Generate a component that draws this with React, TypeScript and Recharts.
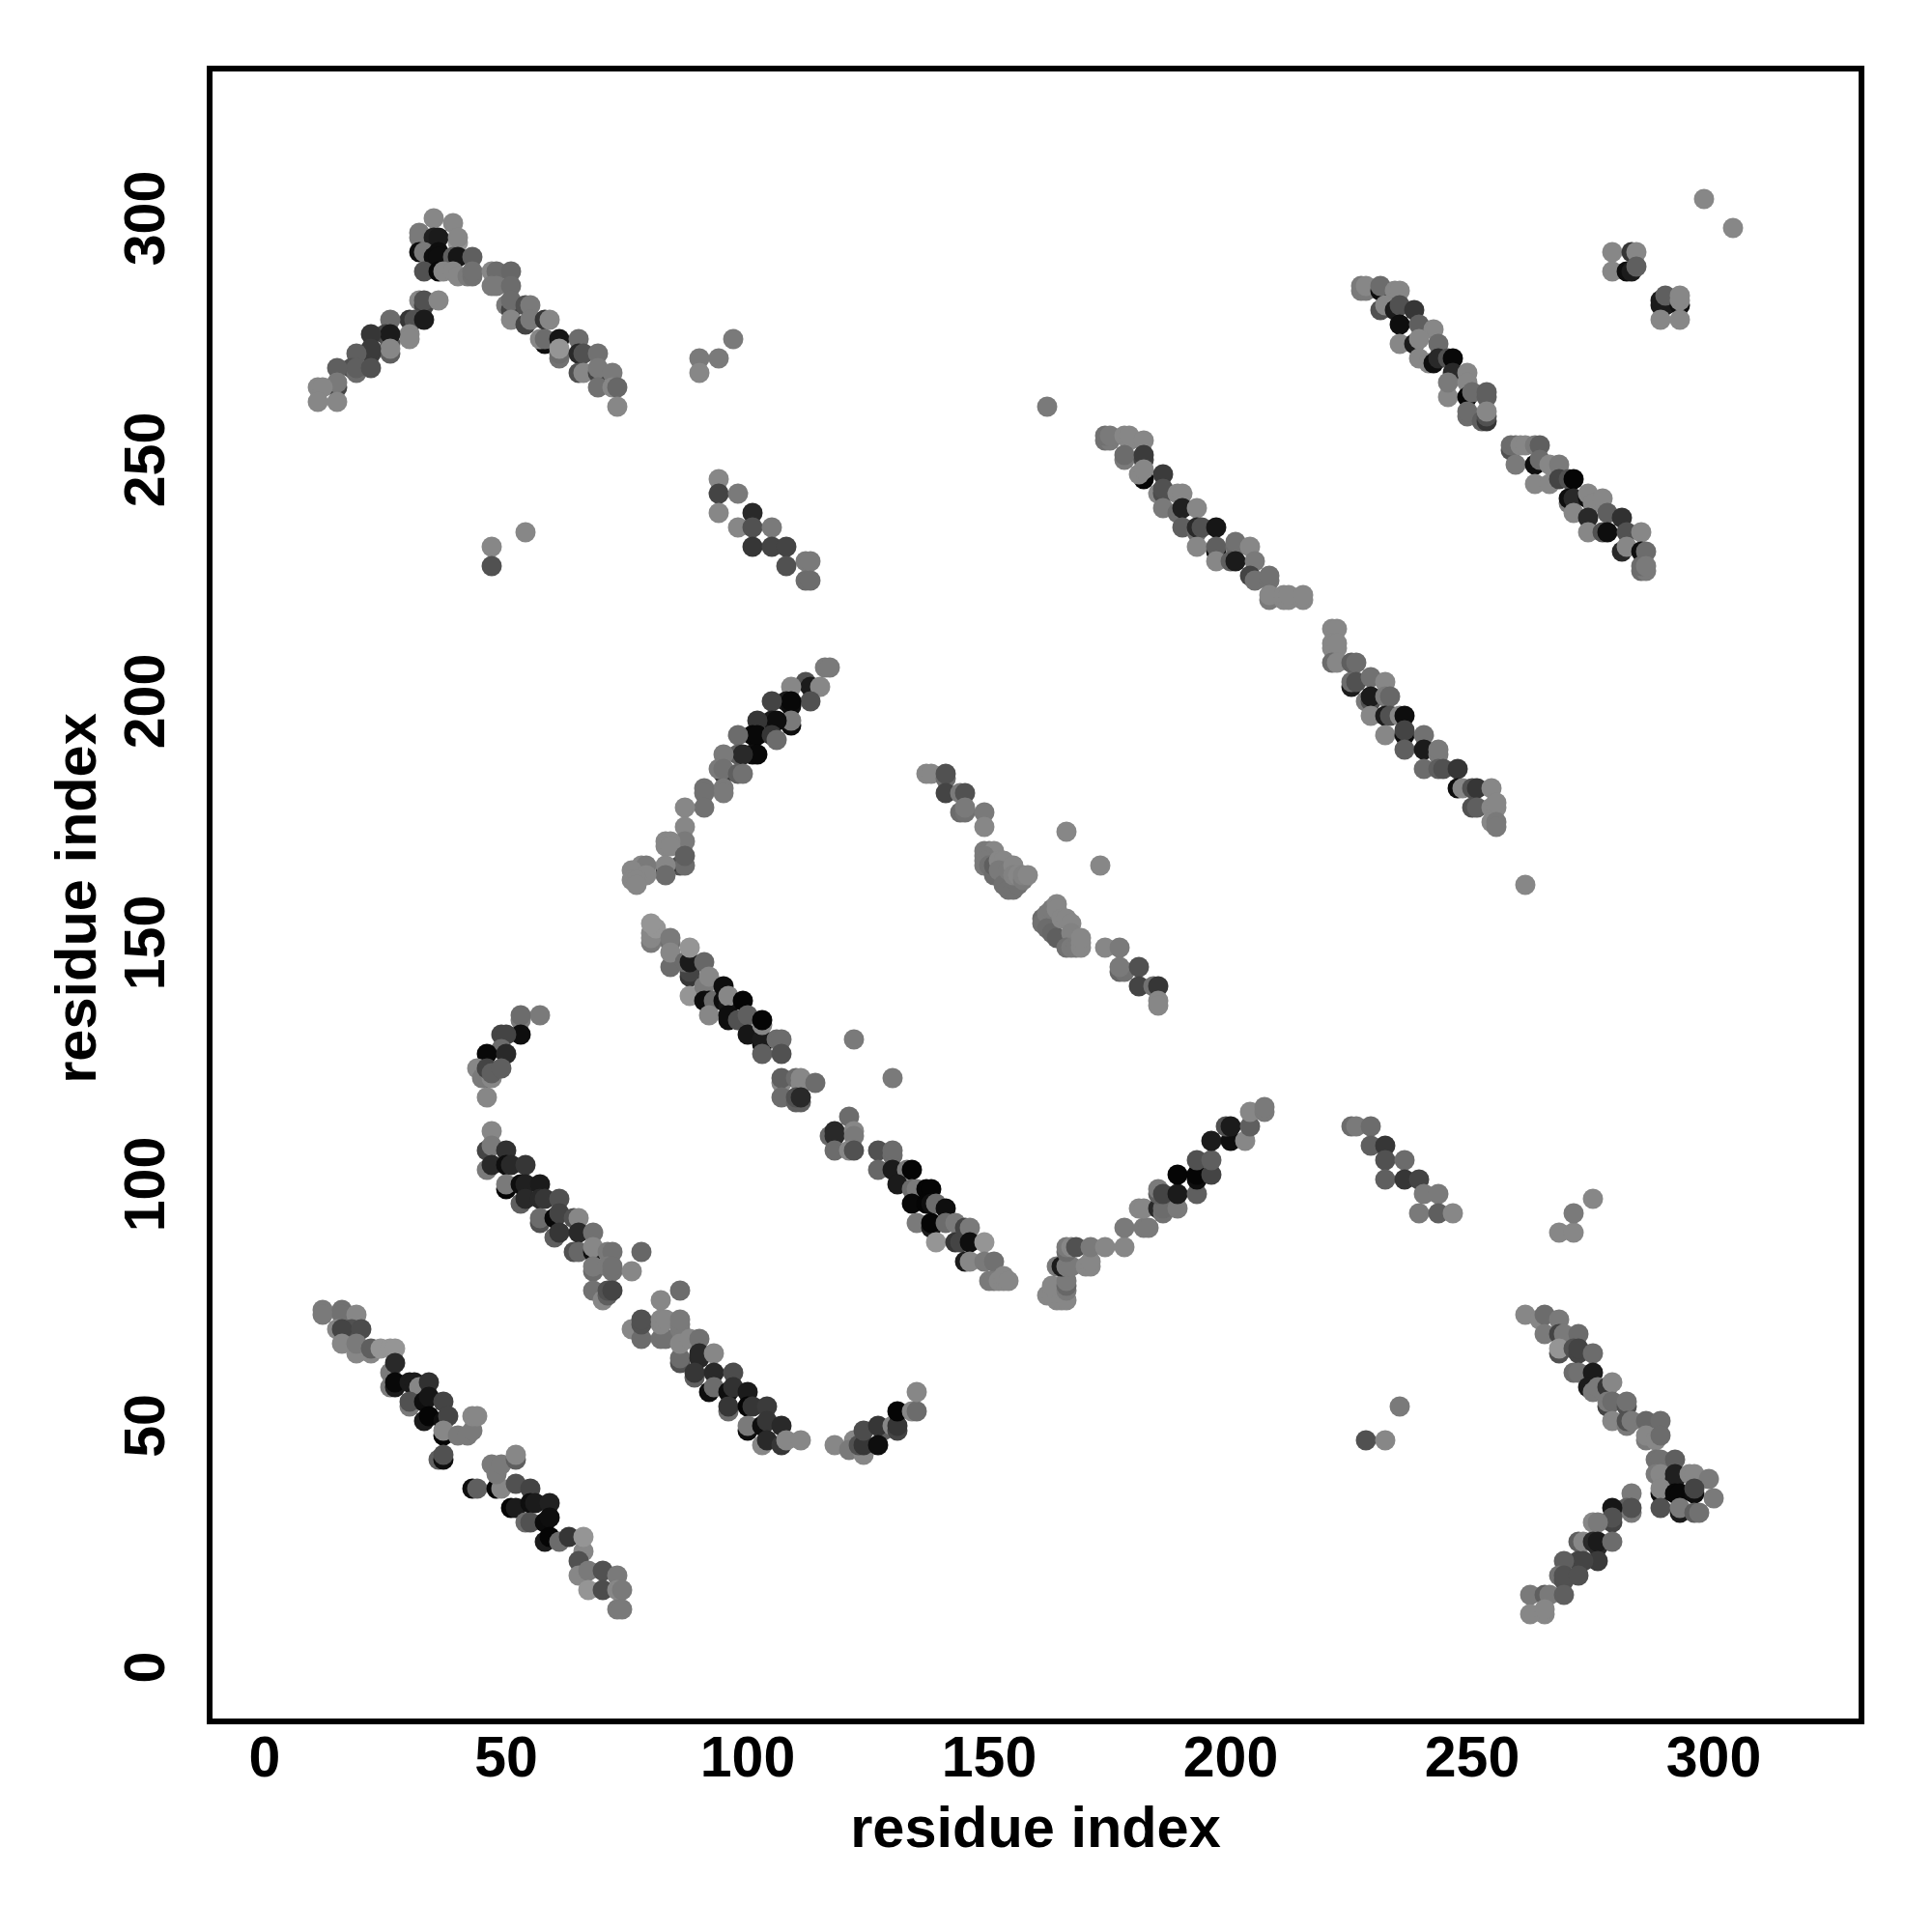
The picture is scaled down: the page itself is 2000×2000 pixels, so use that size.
import { ReferenceArea, Scatter, ScatterChart, XAxis, YAxis } from "recharts";

// every contact is [residue i, residue j, grey level of the dot]
type Contact = [number, number, number];

const xTicks = [0, 50, 100, 150, 200, 250, 300];
const yTicks = [0, 50, 100, 150, 200, 250, 300];
const xDomain = [-11.4, 330.6];
const yDomain = [-11.2, 331];

const bandLowLeft: Contact[] = [
  [12,74,.45],[12,73,.45],[16,74,.42],[16,73,.42],[19,73,.5],[15,70,.5],[18,70,.3],[16,70,.25],[20,70,.28],
  [16,67,.5],[19,65,.5],[19,67,.45],[22,65,.5],[22,66,.35],[24,66,.55],[26,66,.55],[27,66,.55],
  [26,61,.45],[27,63,.15],[26,58,.45],[27,58,.1],[27,59,.03],[30,59,.1],[31,59,.1],[32,58,.5],[34,59,.18],
  [30,54,.45],[30,55,.3],[33,55,.05],[34,56,.08],[37,55,.25],[33,51,.1],[34,52,.02],[37,51,.05],[38,52,.25],
  [37,48,.02],[37,49,.5],[40,48,.45],[42,48,.45],[43,49,.45],[43,52,.5],[44,52,.5],
  [36,43,.35],[37,43,.05],[37,44,.3],[43,37,.05],[44,37,.35],[48,37,.02],[49,37,.5],[47,42,.45],[48,40,.45],[49,42,.45],
  [52,43,.35],[52,44,.5],[52,38,.3],[55,37,.25],[51,33,.02],[52,33,.1],[55,34,.05],[56,34,.1],[59,34,.12],
  [54,30,.4],[55,30,.3],[58,30,.04],[59,31,.05],[58,26,.1],[59,27,.02],[61,26,.4],[63,27,.2],
  [66,24,.5],[66,27,.55],[65,22,.3],[65,19,.5],[67,20,.45],[70,20,.3],[67,16,.55],[70,16,.28],
  [73,19,.45],[73,16,.5],[74,16,.45],[73,12,.45],[74,12,.45],
];

const peakTopLeft: Contact[] = [
  [35,300,.5],[39,299,.5],[32,296,.45],[32,297,.45],[35,296,.12],[36,296,.1],[40,295,.55],[40,296,.5],
  [32,293,.05],[33,293,.45],[35,292,.05],[36,293,.05],[36,292,.05],[39,292,.35],[40,292,.08],[43,292,.35],
  [33,289,.3],[36,289,.03],[37,289,.5],[39,289,.5],[40,288,.5],[42,288,.45],[43,288,.42],[43,289,.42],
  [32,283,.5],[33,282,.25],[33,283,.3],[36,283,.5],[30,279,.2],[31,279,.3],[33,279,.1],[30,276,.5],[30,275,.5],
  [26,279,.4],[25,276,.25],[26,274,.3],[26,276,.1],[26,272,.35],[26,273,.5],[22,276,.2],[22,272,.22],[22,273,.22],
  [19,272,.35],[18,269,.3],[19,268,.4],[19,269,.35],[22,269,.3],[15,269,.35],[15,265,.25],[15,266,.45],[15,262,.5],
  [11,265,.5],[12,265,.5],[11,262,.5],
  [47,289,.5],[48,289,.4],[51,289,.38],[47,286,.45],[48,286,.45],[51,286,.4],[50,282,.45],[51,281,.25],[51,283,.4],[51,279,.5],
  [54,278,.25],[54,282,.3],[55,282,.45],[55,279,.45],[58,279,.2],[59,279,.5],[58,274,.05],[57,275,.5],[58,275,.4],[61,275,.08],
  [61,271,.42],[61,272,.4],[61,273,.55],[65,275,.4],[65,272,.15],[66,272,.3],[69,272,.42],[65,268,.3],[66,268,.5],
  [69,268,.25],[69,269,.45],[69,265,.42],[72,268,.45],[72,265,.5],[73,265,.38],[73,261,.5],
];

const looseTopLeft: Contact[] = [
  [90,271,.45],[90,268,.5],[94,271,.45],[97,275,.45],[47,232,.5],[54,235,.5],[47,228,.3],[162,261,.45],
];

const bandShortTop: Contact[] = [
  [94,246,.5],[94,243,.25],[98,243,.45],[94,239,.5],[101,239,.15],[98,236,.5],[101,236,.3],[105,236,.45],
  [101,232,.2],[105,232,.25],[108,232,.25],[112,229,.45],[113,229,.45],[108,228,.3],[112,225,.4],[113,225,.4],
];

const riseMiddleLeft: Contact[] = [
  [116,207,.45],[117,207,.45],[112,204,.3],[113,203,.1],[115,203,.5],[109,203,.5],[113,200,.3],[108,200,.1],[109,199,.05],[109,200,.03],
  [105,200,.25],[109,195,.05],[109,196,.45],[105,196,.1],[106,196,.05],[102,196,.2],[101,193,.03],[102,193,.03],[98,193,.4],
  [105,193,.2],[106,192,.4],[101,189,.05],[102,189,.03],[98,189,.35],[99,189,.15],[95,189,.45],
  [95,185,.2],[94,186,.45],[95,186,.42],[98,185,.35],[99,185,.42],[95,182,.45],[95,181,.45],[91,182,.42],[91,181,.42],
  [91,178,.42],[87,178,.5],[87,174,.5],[87,171,.45],[83,171,.5],[84,171,.5],[83,170,.5],[84,170,.5],
  [86,166,.3],[87,166,.4],[87,168,.35],[83,165,.1],[83,166,.5],[83,164,.4],[78,166,.5],[79,166,.45],[76,165,.5],[79,164,.5],
  [76,163,.5],[77,163,.5],[77,162,.5],
];

const looseMiddle: Contact[] = [[173,166,.5],[166,173,.5],[261,162,.5]];

const bandCentre: Contact[] = [
  [137,185,.5],[138,185,.5],[141,184,.4],[141,185,.3],[141,181,.25],[144,181,.45],[145,181,.3],[144,177,.4],[145,177,.42],[145,178,.45],
  [149,177,.45],[149,174,.5],
  [149,169,.45],[150,169,.45],[151,169,.5],[149,168,.45],[149,167,.45],[149,166,.45],[150,166,.42],[151,164,.4],[151,166,.35],
  [152,167,.5],[153,167,.5],[152,165,.45],[153,162,.42],[154,161,.42],[155,161,.42],[156,162,.42],[154,165,.45],[155,166,.5],
  [155,164,.48],[156,164,.5],[157,163,.45],[157,164,.48],[158,164,.5],
  [161,155,.4],[161,154,.42],[162,156,.45],[162,153,.4],[163,157,.45],[163,152,.38],[164,158,.5],[164,157,.5],[165,155,.5],[166,155,.5],
  [164,151,.35],[167,154,.5],[167,152,.48],[166,149,.42],[167,149,.45],[168,149,.45],[169,149,.5],[169,150,.5],[169,151,.5],
  [174,149,.5],[177,149,.45],[177,144,.38],[178,144,.42],[177,145,.45],[181,145,.3],[181,141,.25],[184,141,.42],[185,141,.2],
  [185,138,.5],[185,137,.5],
];

const bandLongMiddle: Contact[] = [
  [80,150,.45],[80,151,.5],[80,152,.5],[81,153,.55],[80,154,.55],[84,150,.42],[84,151,.45],[84,145,.4],[84,148,.5],
  [88,143,.2],[88,144,.25],[87,146,.4],[88,146,.1],[88,149,.55],[91,146,.38],[88,139,.55],[91,141,.45],[92,143,.5],
  [91,138,.05],[92,138,.05],[93,138,.4],[92,135,.5],[95,141,.05],[95,138,.05],[96,137,.08],[96,139,.5],
  [96,134,.05],[96,135,.05],[98,134,.3],[99,138,.02],[100,135,.35],[100,131,.08],[103,129,.04],[103,130,.1],[103,133,.5],[103,134,.02],
  [106,130,.4],[107,130,.4],[103,127,.35],[107,127,.3],
  [107,121,.5],[107,122,.35],[110,122,.4],[111,121,.5],[111,122,.5],[114,121,.4],[107,118,.4],[110,117,.35],[111,117,.35],[110,118,.3],[111,118,.15],
  [122,130,.45],[130,122,.45],[121,114,.4],[117,110,.38],[118,111,.15],[118,110,.15],[122,111,.5],[122,110,.45],
  [118,107,.4],[121,107,.5],[122,107,.3],[127,107,.3],[130,106,.4],[130,107,.4],[127,103,.38],
  [130,103,.1],[133,103,.45],[134,103,.02],[131,100,.1],[134,99,.4],[135,99,.45],[137,99,.02],[138,99,.02],
  [134,96,.03],[137,96,.02],[138,96,.05],[139,96,.4],[141,95,.05],[135,92,.45],[138,91,.1],[138,92,.02],[141,92,.4],[143,92,.45],
  [139,88,.55],[143,88,.2],[144,88,.25],[145,91,.25],[146,91,.45],[146,88,.05],[149,88,.55],
  [145,84,.1],[146,84,.5],[149,84,.45],[151,84,.42],[150,80,.45],[151,80,.45],[152,80,.5],[153,80,.5],[153,81,.5],[154,80,.5],
];

const riseLowMiddle: Contact[] = [
  [162,77,.5],[163,77,.5],[164,76,.5],[165,76,.5],[166,76,.5],[163,79,.5],[166,78,.45],[166,79,.38],[166,80,.45],
  [164,83,.45],[165,83,.1],[166,83,.45],[167,83,.45],[170,83,.5],[171,83,.5],[171,84,.5],
  [166,86,.4],[166,87,.45],[167,87,.5],[168,87,.3],[171,87,.45],[174,87,.5],[178,87,.5],[178,91,.45],[182,91,.45],[183,91,.45],
  [181,95,.5],[182,95,.5],[185,95,.15],[186,94,.42],[186,95,.4],[185,98,.35],[185,99,.45],[186,98,.25],
  [189,95,.45],[189,98,.1],[189,102,.02],[193,98,.35],[193,101,.05],[193,102,.02],[193,105,.3],[196,102,.25],[196,105,.35],
  [196,109,.1],[200,109,.05],[199,112,.3],[200,112,.1],[203,109,.5],[204,112,.35],[204,115,.5],[207,115,.45],[207,116,.45],
];

const hookLeft: Contact[] = [
  [57,135,.45],[53,134,.45],[53,135,.4],[53,131,.05],[49,131,.25],[50,131,.25],[49,128,.4],[46,127,.03],[50,127,.15],
  [44,124,.5],[46,122,.35],[45,122,.45],[47,122,.5],[46,124,.25],[47,123,.35],[49,124,.35],[46,118,.5],
];

const bandLeftMiddle: Contact[] = [
  [47,111,.5],[46,107,.25],[47,108,.45],[50,107,.18],[46,103,.45],[47,104,.15],[50,104,.05],[51,104,.15],[54,104,.2],
  [50,99,.02],[50,100,.45],[53,100,.05],[54,100,.12],[57,100,.1],[53,96,.35],[54,97,.15],[57,97,.15],[58,97,.2],[61,97,.3],
  [57,92,.3],[57,93,.4],[60,93,.03],[61,94,.25],[64,93,.3],[65,93,.5],[60,89,.35],[61,90,.2],[65,90,.15],[68,90,.42],
  [64,86,.3],[65,86,.38],[68,86,.05],[68,87,.5],[71,86,.45],[72,86,.42],[78,86,.38],[68,82,.4],[68,83,.45],[71,83,.45],[72,82,.42],[72,83,.42],
  [76,82,.5],[68,78,.42],[70,76,.5],[71,77,.35],[71,78,.3],[72,78,.25],
];

const bandLowMiddle: Contact[] = [
  [82,76,.5],[86,78,.4],[76,70,.5],[78,68,.4],[78,71,.3],[78,72,.3],[82,68,.42],[83,68,.42],[82,71,.5],[82,72,.5],[83,72,.5],
  [86,70,.45],[86,71,.45],[86,72,.45],[86,63,.3],[86,64,.4],[86,67,.5],[88,68,.5],[90,68,.42],
  [90,64,.15],[90,65,.15],[93,65,.5],[89,60,.35],[89,61,.2],[93,61,.15],[97,61,.28],[92,57,.05],[93,58,.4],[96,57,.05],[97,58,.18],[100,57,.1],
  [96,53,.4],[96,54,.2],[100,54,.02],[101,54,.2],[104,54,.22],[100,49,.05],[100,50,.45],[103,50,.05],[104,51,.2],[107,50,.15],
  [103,46,.5],[104,47,.15],[107,46,.2],[108,47,.5],[111,47,.5],
  [118,46,.5],[122,47,.5],[122,46,.5],[121,45,.45],[124,44,.5],[123,46,.3],[124,46,.2],[124,49,.28],[128,49,.35],[127,50,.2],[127,46,.05],
  [130,50,.5],[131,49,.25],[131,50,.2],[131,53,.02],[134,53,.5],[135,53,.4],[135,57,.5],
];

const bandUpperA: Contact[] = [
  [174,254,.42],[175,254,.45],[174,255,.42],[175,255,.45],[178,255,.5],[179,254,.5],[179,255,.5],[182,254,.5],
  [178,250,.45],[178,251,.4],[182,250,.25],[182,251,.22],[182,246,.02],[181,247,.5],[182,248,.5],[186,247,.22],
  [185,243,.5],[186,243,.28],[186,244,.3],[189,243,.5],[190,243,.5],[186,240,.45],[189,239,.4],[190,240,.12],[193,240,.5],
  [190,236,.35],[193,235,.4],[193,236,.15],[194,236,.3],[197,236,.08],[193,232,.5],[197,231,.02],[197,232,.35],[201,232,.4],[201,233,.42],[204,232,.5],
  [197,229,.5],[200,229,.35],[201,229,.1],[205,229,.45],[204,226,.25],[205,225,.42],[208,225,.42],[208,226,.42],
  [208,221,.45],[208,222,.5],[211,221,.5],[211,222,.5],[212,221,.5],[212,222,.5],[215,221,.5],[215,222,.5],
];

const bandUpperB: Contact[] = [
  [221,215,.5],[222,215,.5],[221,211,.5],[222,211,.5],[221,212,.5],[222,212,.5],[221,208,.4],[222,208,.5],[225,208,.35],[226,208,.4],
  [225,203,.1],[225,204,.4],[226,204,.3],[229,205,.42],[232,204,.5],[228,200,.45],[229,200,.3],[229,201,.1],[232,201,.45],[233,201,.38],
  [229,197,.5],[232,197,.1],[233,197,.3],[235,197,.5],[236,197,.05],[232,193,.5],[236,193,.05],[236,194,.25],[240,193,.42],
  [236,190,.35],[240,190,.1],[243,189,.45],[243,190,.45],[240,186,.4],[243,186,.35],[244,186,.3],[247,186,.2],
  [247,182,.05],[248,182,.5],[250,182,.3],[251,182,.2],[254,182,.5],[250,178,.3],[251,178,.35],[254,178,.5],[255,178,.5],[255,179,.5],
  [254,175,.5],[255,175,.45],[255,174,.45],
];

const bandTopRightA: Contact[] = [
  [227,285,.45],[228,285,.45],[227,286,.45],[228,286,.5],[231,285,.05],[231,286,.4],[234,285,.5],[235,285,.5],
  [231,281,.3],[232,282,.5],[234,281,.1],[235,282,.3],[238,281,.2],[235,278,.05],[239,278,.35],[242,277,.5],
  [235,274,.5],[238,274,.1],[239,275,.5],[243,274,.4],[239,271,.5],[241,270,.5],[242,270,.05],[243,271,.15],[245,271,.3],[246,271,.03],
  [246,268,.15],[249,268,.5],[245,263,.5],[245,266,.45],[249,266,.5],[249,263,.02],[250,264,.4],[253,263,.35],[253,264,.35],
  [249,259,.4],[249,260,.4],[252,258,.35],[253,258,.2],[253,259,.3],[253,260,.5],
];

const bandTopRightB: Contact[] = [
  [258,252,.3],[258,253,.4],[259,253,.4],[260,253,.5],[261,253,.5],[263,253,.45],[264,253,.35],[259,249,.45],[263,249,.05],[264,250,.4],[266,249,.5],[268,249,.45],
  [263,245,.5],[266,245,.5],[268,246,.25],[270,246,.3],[271,246,.02],[270,241,.45],[270,242,.05],[271,242,.15],[274,242,.05],[274,243,.5],[275,241,.5],[277,242,.5],
  [271,239,.5],[274,238,.15],[278,239,.35],[281,238,.18],[274,235,.5],[277,235,.3],[278,235,.05],[282,235,.3],[285,235,.5],
  [281,231,.15],[282,232,.5],[285,231,.05],[286,231,.4],[285,227,.4],[286,227,.45],[285,228,.4],[286,228,.45],
];

const cornerTopRight: Contact[] = [
  [279,293,.5],[283,293,.2],[284,293,.5],[279,289,.5],[282,289,.05],[283,289,.1],[284,290,.35],
  [289,282,.1],[289,283,.1],[290,282,.1],[290,284,.35],[293,282,.05],[293,283,.5],[293,284,.5],[289,279,.5],[293,279,.5],
  [298,304,.5],[304,298,.5],
];

const bandMiddleRight: Contact[] = [
  [225,112,.4],[226,112,.45],[229,112,.4],[229,108,.35],[232,108,.2],[232,105,.3],[236,105,.4],[232,101,.35],[236,101,.2],[239,101,.25],
  [240,98,.45],[243,98,.45],[239,94,.45],[243,94,.35],[246,94,.5],
  [268,90,.5],[271,90,.5],[271,94,.45],[275,97,.5],[228,47,.3],[232,47,.5],[235,54,.45],
];

const arrowLowRight: Contact[] = [
  [261,73,.5],[264,72,.5],[265,73,.4],[268,72,.45],[265,69,.45],[268,69,.25],[269,69,.45],[272,69,.4],
  [268,65,.3],[268,66,.55],[271,66,.3],[272,65,.25],[272,66,.25],[275,65,.4],[271,61,.4],[272,61,.42],[275,61,.1],
  [274,58,.1],[275,57,.45],[276,58,.45],[278,58,.2],[279,59,.5],[278,54,.25],[278,55,.45],[279,55,.4],[282,54,.3],[282,55,.42],
  [279,51,.5],[282,50,.45],[282,51,.3],[283,51,.45],[286,51,.38],[289,51,.4],[286,47,.45],[286,48,.5],[288,47,.5],[289,48,.4],
  [288,43,.42],[289,43,.42],[292,43,.35],[288,40,.45],[289,40,.5],[292,39,.12],[292,40,.12],[295,40,.5],[296,40,.5],[299,39,.45],
  [289,36,.05],[289,37,.5],[292,36,.03],[293,36,.03],[296,36,.05],[296,37,.25],[300,35,.45],
  [289,33,.3],[293,32,.1],[293,33,.45],[296,32,.35],[297,32,.42],
  [283,36,.45],[282,33,.35],[283,32,.45],[283,33,.3],[279,33,.08],[279,30,.25],[279,31,.3],[275,30,.5],[276,30,.45],
  [272,26,.35],[273,26,.5],[275,26,.15],[276,25,.15],[276,26,.1],[279,26,.4],[276,22,.22],[272,22,.25],[273,22,.25],[269,22,.35],
  [268,19,.42],[269,18,.3],[269,19,.3],[272,19,.3],[262,15,.45],[265,15,.35],[266,15,.45],[269,15,.35],[262,11,.5],[265,11,.5],[265,12,.5],
];

const contacts = [
  ...bandLowLeft, ...peakTopLeft, ...looseTopLeft, ...bandShortTop, ...riseMiddleLeft, ...looseMiddle,
  ...bandCentre, ...bandLongMiddle, ...riseLowMiddle, ...hookLeft, ...bandLeftMiddle, ...bandLowMiddle,
  ...bandUpperA, ...bandUpperB, ...bandTopRightA, ...bandTopRightB, ...cornerTopRight, ...bandMiddleRight, ...arrowLowRight,
].map(([x, y, shade]) => ({ x, y, shade }));

const FONT = "'Liberation Sans', Arial, sans-serif";

function Dot(props: any) {
  const level = Math.round(props.payload.shade * 270);
  return <circle cx={props.cx} cy={props.cy} r={10.5} fill={`rgb(${level},${level},${level})`} />;
}

// the y tick labels stand on their side, as in base R graphics
function SideTick(props: any) {
  const { y, payload } = props;
  return (
    <text
      x={150}
      y={y}
      transform={`rotate(-90 150 ${y})`}
      textAnchor="middle"
      dominantBaseline="central"
      fontFamily={FONT}
      fontWeight="bold"
      fontSize={59}
      fill="#000"
    >
      {payload.value}
    </text>
  );
}

export default function App() {
  return (
    <div style={{ position: "absolute", left: 0, top: 0, width: 2000, height: 2000, background: "#fff" }}>
      <ScatterChart width={2000} height={2000} margin={{ top: 71, right: 73, bottom: 0, left: 0 }}>
        <XAxis
          type="number"
          dataKey="x"
          domain={xDomain}
          ticks={xTicks}
          interval={0}
          axisLine={false}
          tickLine={false}
          height={218}
          tickMargin={0}
          tick={{ fontFamily: FONT, fontWeight: "bold", fontSize: 59, fill: "#000", dy: 9 }}
          allowDataOverflow
        />
        <YAxis
          type="number"
          dataKey="y"
          domain={yDomain}
          ticks={yTicks}
          interval={0}
          axisLine={false}
          tickLine={false}
          width={217}
          tick={<SideTick />}
          allowDataOverflow
        />
        <ReferenceArea
          x1={xDomain[0]}
          x2={xDomain[1]}
          y1={yDomain[0]}
          y2={yDomain[1]}
          fill="none"
          stroke="#000"
          strokeWidth={6}
          ifOverflow="visible"
        />
        <Scatter data={contacts} shape={<Dot />} isAnimationActive={false} />
        <text x={1072} y={1891} textAnchor="middle" dominantBaseline="central" fontFamily={FONT} fontWeight="bold" fontSize={59.5}>
          residue index
        </text>
        <text
          x={78}
          y={930}
          transform="rotate(-90 78 930)"
          textAnchor="middle"
          dominantBaseline="central"
          fontFamily={FONT}
          fontWeight="bold"
          fontSize={59.5}
        >
          residue index
        </text>
      </ScatterChart>
    </div>
  );
}
